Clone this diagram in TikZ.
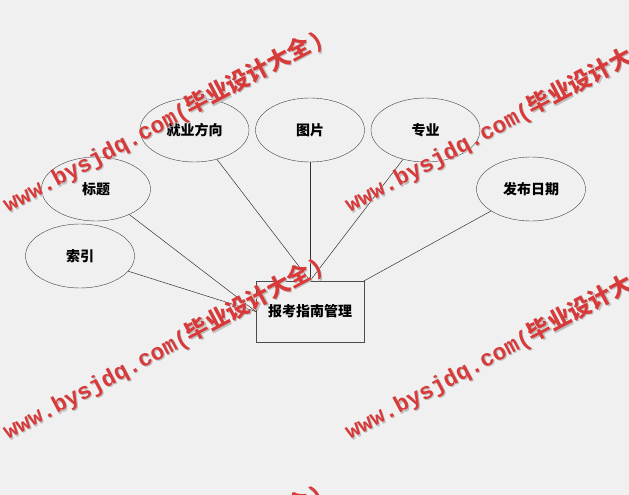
\documentclass[tikz,border=0pt]{standalone}
\usepackage{fontspec}
\newfontfamily\cjk{Noto Sans CJK SC}
\newfontfamily\wmmono{Liberation Mono}
\usetikzlibrary{shapes,positioning}
\definecolor{bgcol}{HTML}{F0F0F0}
\definecolor{wmred}{HTML}{D83A3A}

\begin{document}
\begin{tikzpicture}[x=1pt, y=-1pt,
    attr/.style={draw=black!75, ellipse, minimum width=109pt, minimum height=64pt, inner sep=0pt, font=\cjk\bfseries\fontsize{14}{16}\selectfont},
    entity/.style={draw=black!70, rectangle, minimum width=108pt, minimum height=61pt, font=\cjk\bfseries\fontsize{14}{16}\selectfont},
    link/.style={draw=black!80, line width=0.5pt},
    wmark/.style={rotate=28, anchor=base west, inner sep=0pt, font=\bfseries\fontsize{23}{25}\selectfont},
    node distance=115.5pt]
    \fill[bgcol] (0,0) rectangle (629,495);
    \useasboundingbox (0,0) rectangle (629,495);

    \node[entity] (guide) at (310,311.5) {报考指南管理};

    \node[attr] (job) at (194.5,130) {就业方向};
    \node[attr, right of=job] (pic) {图片};
    \node[attr, right of=pic] (major) {专业};
    \node[attr] (title) at (96,189) {标题};
    \node[attr] (date) at (531,189) {发布日期};
    \node[attr] (index) at (80,256) {索引};

    \draw[link] (index) -- (guide.west);
    \draw[link] (title) -- (guide.west);
    \draw[link] (job) -- (guide.north);
    \draw[link] (pic) -- (guide.north);
    \draw[link] (major) -- (guide.north);
    \draw[link] (date) -- (guide.north east);

    % watermark
    \begin{scope}
    \clip (0,0) rectangle (629,495);
    \foreach \wx/\wy [count=\i] in {8/213, 350/213, 8/440, 350/440, 8/667} {
        \node[wmark, text=black!25] (wms\i) at (\wx+1.2,\wy+1.2) {\wmmono www.bysjdq.com(\cjk 毕业设计大全\wmmono )};
        \node[wmark, text=wmred] (wm\i) at (\wx,\wy) {\wmmono www.bysjdq.com(\cjk 毕业设计大全\wmmono )};
    }
    \end{scope}
\end{tikzpicture}
\end{document}
